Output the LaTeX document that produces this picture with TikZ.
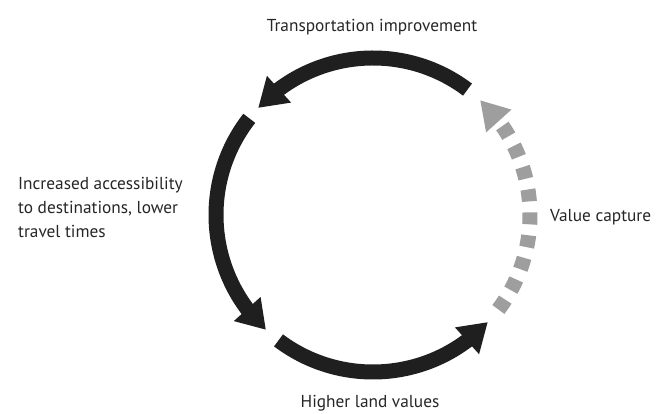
\documentclass[tikz,border=0pt]{standalone}
\usepackage{fontspec}
\setmainfont{PT Sans}
\usetikzlibrary{arrows.meta,bending}
\begin{document}
\begin{tikzpicture}[x=1pt,y=1pt,
  flow/.style={line width=15pt,draw=black!88,-{Triangle[length=28pt,width=34pt,flex]}},
  capture/.style={line width=15pt,draw=black!38,dash pattern=on 12pt off 11pt,-{Triangle[length=28pt,width=32pt,flex,fill=black!38]}},
  lbl/.style={inner sep=0pt,font=\fontsize{17.3}{24}\selectfont,text=black!85}]
%\draw[help lines, step=50] (0,0) grid (667,414);
\useasboundingbox (0,0) rectangle (667,414);
\coordinate (c) at (373,199);
\node[lbl](trans) at (372,387) {Transportation improvement};
\node[lbl,align=left,anchor=west](access) at (18,207) {Increased accessibility\\to destinations, lower\\travel times};
\node[lbl](land) at (370,11) {Higher land values};
\node[lbl,anchor=west](capture) at (550,197) {Value capture};

\draw[flow](c) ++(53:157) arc[start angle=53,end angle=137,radius=157];
\draw[flow](c) ++(142:157) arc[start angle=142,end angle=227,radius=157];
\draw[flow](c) ++(233:157) arc[start angle=233,end angle=317,radius=157];
\draw[capture](c) ++(-37:157) arc[start angle=-37,end angle=47,radius=157];
\end{tikzpicture}
\end{document}
